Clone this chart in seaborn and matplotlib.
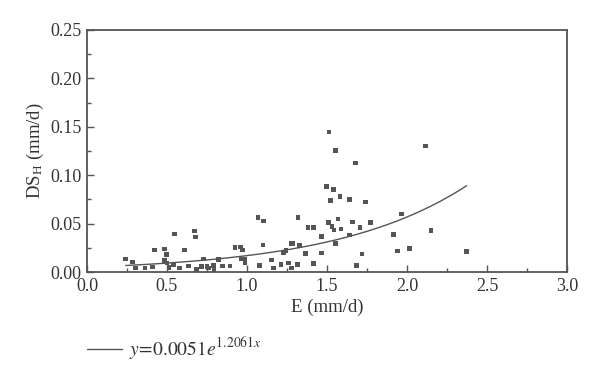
import matplotlib
matplotlib.use("Agg")
import matplotlib.pyplot as plt
import numpy as np
import pandas as pd
import seaborn as sns

e_mm = [
    0.242, 0.286, 0.303, 0.363, 0.408, 0.422, 0.483, 0.498, 0.483, 0.501,
    0.546, 0.513, 0.539, 0.578, 0.608, 0.633, 0.671, 0.677, 0.683, 0.714,
    0.749, 0.727, 0.758, 0.791, 0.793, 0.822, 0.848, 0.893, 0.924, 0.961,
    0.973, 0.966, 0.986, 0.988, 1.069, 1.080, 1.101, 1.104, 1.155, 1.167,
    1.213, 1.227, 1.244, 1.261, 1.277, 1.275, 1.288, 1.314, 1.327, 1.319,
    1.366, 1.381, 1.417, 1.414, 1.464, 1.467, 1.513, 1.498, 1.542, 1.521,
    1.511, 1.532, 1.544, 1.569, 1.554, 1.581, 1.552, 1.588, 1.639, 1.678,
    1.642, 1.661, 1.686, 1.707, 1.739, 1.719, 1.771, 1.917, 1.967, 1.939,
    2.014, 2.117, 2.150, 2.373,
]
ds_h = [
    0.0137, 0.0103, 0.0041, 0.0044, 0.0052, 0.0230, 0.0240, 0.0179, 0.0122, 0.0096,
    0.0395, 0.0046, 0.0072, 0.0041, 0.0230, 0.0064, 0.0424, 0.0362, 0.0025, 0.0059,
    0.0057, 0.0134, 0.0044, 0.0070, 0.0029, 0.0132, 0.0065, 0.0064, 0.0253, 0.0258,
    0.0227, 0.0134, 0.0134, 0.0096, 0.0563, 0.0067, 0.0279, 0.0529, 0.0126, 0.0041,
    0.0077, 0.0199, 0.0224, 0.0095, 0.0044, 0.0294, 0.0298, 0.0080, 0.0276, 0.0565,
    0.0193, 0.0462, 0.0462, 0.0091, 0.0369, 0.0198, 0.1446, 0.0885, 0.0854, 0.0737,
    0.0513, 0.0468, 0.0436, 0.0548, 0.1253, 0.0782, 0.0296, 0.0447, 0.0751, 0.1126,
    0.0382, 0.0517, 0.0069, 0.0463, 0.0723, 0.0189, 0.0511, 0.0389, 0.0599, 0.0220,
    0.0241, 0.1302, 0.0427, 0.0210,
]

# exponential fit shown in the legend: y = a * exp(b * x)
fit_a = 0.0051
fit_b = 1.2061
fit_label = r"$y\!=\!0.0051e^{1.2061x}$"

sns.set_style("ticks")
plt.rcParams["font.family"] = ["Liberation Serif", "DejaVu Serif"]
plt.rcParams["mathtext.fontset"] = "stix"

df = pd.DataFrame({"E": e_mm, "DS": ds_h})
fit_x = np.linspace(min(e_mm), max(e_mm), 200)
fit = pd.DataFrame({"E": fit_x, "DS": fit_a * np.exp(fit_b * fit_x)})

fig = plt.figure(figsize=(6.0, 3.79), dpi=100)
ax = fig.add_axes([0.145, 0.282, 0.80, 0.639])

grey = "#555555"
sns.scatterplot(data=df, x="E", y="DS", marker="s", s=11, color=grey,
                edgecolor="none", ax=ax, legend=False)
sns.lineplot(data=fit, x="E", y="DS", color=grey, linewidth=1.0, ax=ax,
             label=fit_label, legend=False)

ax.set_xlim(0, 3.0)
ax.set_ylim(0, 0.25)
ax.set_xticks(np.arange(0, 3.01, 0.5))
ax.set_yticks(np.arange(0, 0.251, 0.05))
ax.set_xticks(np.arange(0.25, 3.0, 0.5), minor=True)
ax.set_yticks(np.arange(0.025, 0.25, 0.05), minor=True)
ax.set_xticklabels([f"{v:.1f}" for v in np.arange(0, 3.01, 0.5)])
ax.set_yticklabels([f"{v:.2f}" for v in np.arange(0, 0.251, 0.05)])
ax.tick_params(which="major", direction="in", length=5, width=1.0, color=grey,
               labelsize=13, labelcolor="#333333", pad=4)
ax.tick_params(which="minor", direction="in", length=3, width=1.0, color=grey)

for s in ax.spines.values():
    s.set_visible(True)
    s.set_color(grey)
    s.set_linewidth(1.3)

ax.set_xlabel("E (mm/d)", fontsize=13.5, color="#333333", labelpad=3)
ax.set_ylabel(r"DS$_\mathregular{H}$ (mm/d)", fontsize=13.5, color="#333333", labelpad=3)

handles, labels = ax.get_legend_handles_labels()
fig.legend(handles, labels, loc="center left", bbox_to_anchor=(0.115, 0.08),
           frameon=False, fontsize=14, handlelength=1.8, handletextpad=0.4,
           labelcolor="#333333")

fig.savefig("out.png", dpi=100)
